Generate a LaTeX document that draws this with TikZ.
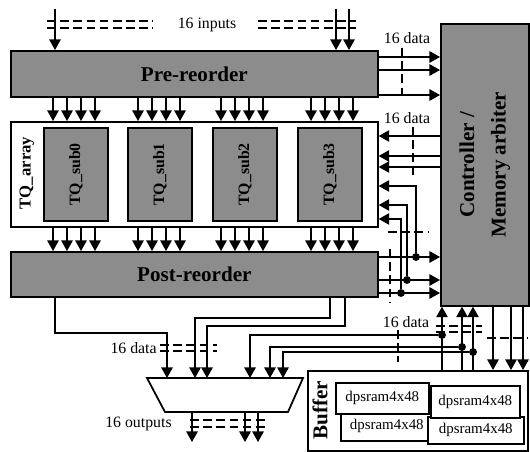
\documentclass[tikz,border=0pt]{standalone}
\usepackage{fontspec}
\setmainfont{Liberation Serif}
\usetikzlibrary{arrows.meta}
\definecolor{blockgray}{RGB}{140,140,140}

\begin{document}
\begin{tikzpicture}[x=0.02cm, y=-0.02cm, >={Triangle[length=6pt,width=6.5pt]}]
  \tikzstyle{blk}=[rectangle,draw,line width=1pt,fill=blockgray,inner sep=0pt,anchor=north west,font=\bfseries\fontsize{12}{14}\selectfont]
  \tikzstyle{wbox}=[rectangle,draw,line width=1pt,fill=white,inner sep=0pt,anchor=north west]
  \tikzstyle{ram}=[rectangle,draw,line width=0.9pt,fill=white,inner sep=0pt,anchor=north west,font=\fontsize{8.5}{10}\selectfont]
  \tikzstyle{wire}=[line width=0.8pt]
  \tikzstyle{bus}=[line width=1.3pt,dash pattern=on 5pt off 2.5pt]
  \tikzstyle{lbl}=[font=\fontsize{9}{10}\selectfont,inner sep=0pt]
  \tikzstyle{dot}=[circle,fill,inner sep=0pt,minimum size=4.5pt]
  \useasboundingbox (0,0) rectangle (530,452);

  % blocks
  \node[blk,minimum width=7.34cm,minimum height=0.92cm] (pre) at (10,50) {Pre-reorder};
  \node[blk,minimum width=1.76cm,minimum height=5.64cm] (ctrl) at (440,23) {};
  \node[rotate=90,align=center,font=\bfseries\fontsize{12}{18}\selectfont] (ctrltxt) at (ctrl) {Controller /\\Memory arbiter};
  \node[wbox,minimum width=7.34cm,minimum height=2.1cm] (tq) at (10,121) {};
  \node[rotate=90,font=\bfseries\fontsize{9.5}{11}\selectfont] (tqtxt) at (27,173) {TQ\_array};
  \foreach \i/\x in {0/43,1/127,2/212,3/297} {
    \node[blk,minimum width=1.28cm,minimum height=1.86cm] (sub\i) at (\x,127) {};
    \node[rotate=90,font=\bfseries\fontsize{9}{11}\selectfont] at (sub\i) {TQ\_sub\i};
  }
  \node[blk,minimum width=7.34cm,minimum height=0.9cm] (post) at (10,251) {Post-reorder};

  % buffer
  \node[wbox,minimum width=4.4cm,minimum height=1.6cm] (buf) at (307,370) {};
  \node[rotate=90,font=\bfseries\fontsize{12}{14}\selectfont] (buftxt) at (320,410) {Buffer};
  \node[ram,minimum width=1.84cm,minimum height=0.6cm] (ram1) at (340,410) {dpsram4x48};
  \node[ram,minimum width=1.92cm,minimum height=0.54cm] (ram3) at (427,416) {dpsram4x48};
  \node[ram,minimum width=1.86cm,minimum height=0.62cm] (ram0) at (335,382) {dpsram4x48};
  \node[ram,minimum width=1.78cm,minimum height=0.64cm] (ram2) at (430,385) {dpsram4x48};

  % output mux
  \draw[line width=1pt] (147,378) -- (303,378) -- (288,412) -- (165,412) -- cycle;
  \coordinate (muxtop) at (225,378);
  \coordinate (muxbot) at (225,412);
  \coordinate (ins) at (0,9);
  \coordinate (outs) at (0,442);

  % inputs
  \foreach \x in {55,336,349}
    \draw[wire,->] (\x,0 |- ins) -- (\x,0 |- pre.north);
  \draw[bus] (47,21) -- (153,21) (47,28) -- (153,28);
  \draw[bus] (258,21) -- (356,21) (258,28) -- (356,28);
  \node[lbl] (inlbl) at (207,25) {16 inputs};

  % pre-reorder -> TQ array -> post-reorder
  \foreach \x in {53,67,81,95,138,152,166,180,221,235,249,263,311,325,339,353} {
    \draw[wire,->] (\x,0 |- pre.south) -- (\x,0 |- tq.north);
    \draw[wire,->] (\x,0 |- tq.south) -- (\x,0 |- post.north);
  }

  % pre-reorder -> controller
  \foreach \y in {57,70,95}
    \draw[wire,->] (pre.east |- 0,\y) -- (ctrl.west |- 0,\y);
  \draw[bus] (402,48) -- (402,100);
  \node[lbl] (d1) at (407,38) {16 data};

  % controller -> TQ array
  \foreach \y in {136,156,167}
    \draw[wire,->] (ctrl.west |- 0,\y) -- (tq.east |- 0,\y);
  \draw[bus] (413,127) -- (413,177);
  \node[lbl] (d2) at (407,118) {16 data};

  % post-reorder -> controller, fed back to TQ array
  \node[dot] (j0) at (416,257) {};
  \node[dot] (j1) at (407,280) {};
  \node[dot] (j2) at (401,293) {};
  \foreach \j in {j0,j1,j2}
    \draw[wire,->] (post.east |- \j) -- (ctrl.west |- \j);
  \draw[wire,->] (j0) |- (tq.east |- 0,186);
  \draw[wire,->] (j1) |- (tq.east |- 0,205);
  \draw[wire,->] (j2) |- (tq.east |- 0,219);
  \draw[bus] (388,232) -- (428,232);
  \draw[bus] (390,249) -- (390,303);

  % post-reorder -> mux
  \draw[wire,->] (55,0 |- post.south) -- (55,333) -| (167,0 |- muxtop);
  \draw[wire,->] (330,0 |- post.south) -- (330,318) -| (195,0 |- muxtop);
  \draw[wire,->] (345,0 |- post.south) -- (345,326) -| (207,0 |- muxtop);
  \draw[bus] (160,345) -- (217,345) (160,351) -- (217,351);
  \node[lbl,anchor=east] (d4) at (157,348) {16 data};

  % buffer -> controller and mux
  \node[dot] (k0) at (442,335) {};
  \node[dot] (k1) at (462,347) {};
  \node[dot] (k2) at (473,352) {};
  \foreach \k in {k0,k1,k2}
    \draw[wire,->] (buf.north -| \k) -- (ctrl.south -| \k);
  \draw[wire,->] (k0) -| (250,0 |- muxtop);
  \draw[wire,->] (k1) -| (270,0 |- muxtop);
  \draw[wire,->] (k2) -| (283,0 |- muxtop);
  \draw[bus] (398,330) -- (398,362);
  \draw[bus] (436,326) -- (482,326) (436,332) -- (482,332);
  \node[lbl] (d3) at (406,322) {16 data};

  % controller -> buffer
  \foreach \x in {493,511,523}
    \draw[wire,->] (\x,0 |- ctrl.south) -- (\x,0 |- buf.north);
  \draw[bus] (487,338) -- (528,338);

  % mux outputs
  \foreach \x in {192,245,258}
    \draw[wire,->] (\x,0 |- muxbot) -- (\x,0 |- outs);
  \draw[bus] (190,420) -- (267,420) (190,427) -- (267,427);
  \node[lbl,anchor=east] (outlbl) at (172,424) {16 outputs};
\end{tikzpicture}
\end{document}
